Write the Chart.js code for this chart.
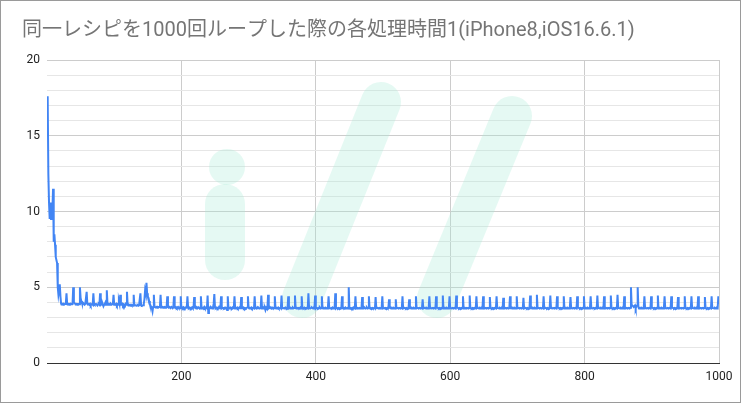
<!DOCTYPE html>
<html>
<head>
<meta charset="utf-8">
<script src="https://cdn.jsdelivr.net/npm/chart.js@4/dist/chart.umd.min.js"></script>
<style>
	body { margin: 0; background: #fff; }
	#wrap { width: 741px; height: 403px; }
</style>
</head>
<body>
<div id="wrap"><canvas id="loopChart" width="741" height="403"></canvas></div>
<script>
var chartTitle = "同一レシピを1000回ループした際の各処理時間1(iPhone8,iOS16.6.1)";
var yTickLabels = [0, 5, 10, 15, 20];
var xTickLabels = [200, 400, 600, 800, 1000];

// processing time per loop (10 loops per row)
var loopTimes = [
	17.6,12.5,10.6,9.5,10.5,9.5,10.6,10.0,11.5,8.0,
	8.5,7.8,7.0,6.8,6.6,5.0,4.5,4.8,5.2,4.4,
	3.9,3.88,3.9,3.85,3.9,3.88,3.9,3.92,4.6,3.9,
	3.88,3.9,3.85,3.9,3.92,3.88,3.9,3.9,5.0,4.0,
	3.95,3.9,3.88,3.9,3.85,3.9,3.9,3.88,5.0,4.3,
	4.1,3.95,3.9,3.88,3.9,3.85,3.9,3.9,4.7,3.9,
	3.88,3.9,3.85,3.9,3.8,3.88,3.9,3.85,4.6,3.9,
	3.85,3.88,3.9,3.85,3.8,3.88,3.9,3.85,4.6,3.85,
	3.9,3.85,3.88,3.75,3.85,3.9,4.0,3.85,4.8,3.9,
	3.85,3.9,3.88,3.85,3.9,3.85,3.88,3.9,4.5,3.85,
	3.88,3.85,3.9,3.8,3.88,3.85,4.1,3.9,4.5,3.85,
	3.85,3.9,3.8,3.88,3.85,3.8,3.9,3.85,4.7,3.85,
	3.8,3.85,3.82,3.8,3.85,3.8,3.82,3.8,4.5,3.8,
	3.82,3.8,3.78,3.8,3.82,3.78,3.8,3.8,4.6,3.8,
	3.78,3.8,3.82,3.9,4.2,4.8,4.6,5.3,4.6,4.4,
	4.3,4.1,3.9,3.8,3.7,3.6,3.4,3.7,4.5,3.7,
	3.7,3.68,3.7,3.65,3.7,3.68,3.7,3.68,4.5,3.7,
	3.68,3.7,3.65,3.68,3.7,3.65,3.68,3.7,4.4,3.68,
	3.65,3.7,3.66,3.64,3.7,3.66,3.62,3.68,4.4,3.66,
	3.64,3.68,3.62,3.66,3.7,3.64,3.66,3.62,4.4,3.65,
	3.66,3.62,3.68,3.64,3.6,3.66,3.64,3.68,4.4,3.64,
	3.62,3.66,3.64,3.6,3.66,3.68,3.62,3.64,4.35,3.66,
	3.64,3.6,3.66,3.62,3.68,3.64,3.6,3.66,4.4,3.62,
	3.66,3.62,3.64,3.7,3.62,3.66,3.64,3.6,4.45,3.3,
	3.64,3.66,3.62,3.68,3.64,3.6,3.66,3.9,4.55,3.64,
	3.62,3.66,3.64,3.6,3.66,3.62,3.68,3.64,4.4,3.62,
	3.66,3.62,3.6,3.64,3.66,3.62,3.64,3.5,4.4,3.64,
	3.6,3.64,3.66,3.62,3.6,3.66,3.62,3.64,4.4,3.6,
	3.64,3.62,3.66,3.6,3.64,3.62,3.66,3.64,4.35,3.62,
	3.62,3.66,3.6,3.64,3.62,3.6,3.64,3.66,4.4,3.64,
	3.6,3.64,3.62,3.66,3.6,3.64,3.62,3.6,4.4,3.62,
	3.64,3.6,3.66,3.62,3.64,3.6,3.62,3.66,4.45,3.6,
	3.62,3.66,3.6,3.64,3.5,3.66,3.6,3.64,4.5,3.62,
	3.66,3.62,3.64,3.6,3.66,3.62,3.64,3.62,4.4,3.64,
	3.6,3.64,3.62,3.66,3.6,3.62,3.64,3.6,4.45,3.62,
	3.64,3.62,3.6,3.64,3.66,3.62,3.6,3.64,4.4,3.6,
	3.62,3.6,3.64,3.62,3.6,3.66,3.62,3.64,4.45,3.62,
	3.6,3.64,3.62,3.6,3.64,3.62,3.66,3.6,4.4,3.64,
	3.64,3.62,3.66,3.62,3.6,3.64,3.62,3.6,4.6,3.62,
	3.62,3.6,3.64,3.66,3.62,3.6,3.64,3.62,4.45,3.6,
	3.64,3.62,3.6,3.64,3.62,3.66,3.6,3.62,4.4,3.64,
	3.6,3.64,3.62,3.6,3.64,3.62,3.6,3.64,4.4,3.62,
	3.62,3.6,3.64,3.62,3.66,3.6,3.62,3.64,4.6,3.6,
	3.64,3.62,3.6,3.64,3.62,3.6,3.64,3.62,4.4,3.64,
	3.6,3.64,3.62,3.66,3.6,3.62,3.64,3.6,5.0,3.62,
	3.64,3.6,3.62,3.64,3.6,3.66,3.62,3.6,4.4,3.64,
	3.62,3.64,3.6,3.62,3.64,3.6,3.62,3.64,4.35,3.6,
	3.6,3.62,3.64,3.6,3.62,3.66,3.6,3.62,4.4,3.64,
	3.64,3.6,3.62,3.64,3.6,3.62,3.64,3.6,4.35,3.62,
	3.62,3.64,3.6,3.62,3.64,3.6,3.62,3.64,4.4,3.6,
	3.6,3.62,3.64,3.6,3.62,3.64,3.6,3.62,4.2,3.64,
	3.62,3.6,3.64,3.62,3.6,3.64,3.62,3.6,4.2,3.62,
	3.64,3.62,3.6,3.64,3.62,3.6,3.64,3.62,4.4,3.6,
	3.6,3.64,3.62,3.6,3.64,3.62,3.6,3.64,4.2,3.62,
	3.62,3.6,3.64,3.62,3.6,3.64,3.62,3.6,4.4,3.64,
	3.64,3.62,3.6,3.64,3.62,3.6,3.64,3.62,4.2,3.6,
	3.6,3.64,3.62,3.6,3.64,3.62,3.6,3.64,4.4,3.62,
	3.62,3.6,3.64,3.62,3.6,3.64,3.62,3.6,4.4,3.64,
	3.64,3.62,3.6,3.64,3.62,3.6,3.64,3.62,4.45,3.6,
	3.6,3.64,3.62,3.6,3.64,3.62,3.6,3.64,4.4,3.62,
	3.62,3.6,3.64,3.62,3.6,3.64,3.62,3.6,4.45,3.64,
	3.64,3.62,3.6,3.64,3.62,3.6,3.64,3.62,4.4,3.6,
	3.6,3.64,3.62,3.6,3.64,3.62,3.6,3.64,4.45,3.62,
	3.62,3.6,3.64,3.62,3.6,3.64,3.62,3.6,4.4,3.64,
	3.64,3.62,3.6,3.64,3.62,3.6,3.64,3.62,4.4,3.6,
	3.6,3.64,3.62,3.6,3.64,3.62,3.6,3.64,4.35,3.62,
	3.62,3.6,3.64,3.62,3.6,3.64,3.62,3.6,4.4,3.64,
	3.64,3.62,3.6,3.64,3.62,3.6,3.64,3.62,4.3,3.6,
	3.6,3.64,3.62,3.6,3.64,3.62,3.6,3.64,4.4,3.62,
	3.62,3.6,3.64,3.62,3.6,3.64,3.62,3.6,4.4,3.64,
	3.64,3.62,3.6,3.64,3.62,3.6,3.64,3.62,4.3,3.6,
	3.6,3.64,3.62,3.6,3.64,3.62,3.6,3.64,4.45,3.62,
	3.62,3.6,3.64,3.62,3.6,3.64,3.62,3.6,4.5,3.64,
	3.64,3.62,3.6,3.64,3.62,3.6,3.64,3.62,4.4,3.6,
	3.6,3.64,3.62,3.6,3.64,3.62,3.6,3.64,4.45,3.62,
	3.62,3.6,3.64,3.62,3.6,3.64,3.62,3.6,4.4,3.64,
	3.64,3.62,3.6,3.64,3.62,3.6,3.64,3.62,4.4,3.6,
	3.6,3.64,3.62,3.6,3.64,3.62,3.6,3.64,4.35,3.62,
	3.62,3.6,3.64,3.62,3.6,3.64,3.62,3.6,4.4,3.64,
	3.64,3.62,3.6,3.64,3.62,3.6,3.64,3.62,4.4,3.6,
	3.6,3.64,3.62,3.6,3.64,3.62,3.6,3.64,4.4,3.62,
	3.62,3.6,3.64,3.62,3.6,3.64,3.62,3.6,4.45,3.64,
	3.64,3.62,3.6,3.64,3.62,3.6,3.64,3.62,4.4,3.6,
	3.6,3.64,3.62,3.6,3.64,3.62,3.6,3.64,4.45,3.62,
	3.62,3.6,3.64,3.62,3.6,3.64,3.62,3.6,4.5,3.64,
	3.64,3.62,3.6,3.64,3.62,3.6,3.64,3.62,4.4,3.6,
	3.6,3.64,3.62,3.6,3.64,3.62,3.6,3.64,5.0,3.8,
	3.8,3.75,3.7,3.75,3.8,3.6,3.75,3.8,5.0,3.7,
	3.6,3.64,3.62,3.6,3.64,3.62,3.6,3.64,4.4,3.62,
	3.62,3.6,3.64,3.62,3.6,3.64,3.62,3.6,4.4,3.64,
	3.64,3.62,3.6,3.64,3.62,3.6,3.64,3.62,4.45,3.6,
	3.6,3.64,3.62,3.6,3.64,3.62,3.6,3.64,4.4,3.62,
	3.62,3.6,3.64,3.62,3.6,3.64,3.62,3.6,4.4,3.64,
	3.64,3.62,3.6,3.64,3.62,3.6,3.64,3.62,4.35,3.6,
	3.6,3.64,3.62,3.6,3.64,3.62,3.6,3.64,4.4,3.62,
	3.62,3.6,3.64,3.62,3.6,3.64,3.62,3.6,4.4,3.64,
	3.64,3.62,3.6,3.64,3.62,3.6,3.64,3.62,4.4,3.6,
	3.6,3.64,3.62,3.6,3.64,3.62,3.6,3.64,4.35,3.62,
	3.62,3.6,3.64,3.62,3.6,3.64,3.62,3.6,4.4,3.64,
	3.64,3.62,3.6,3.64,3.62,3.6,3.64,3.62,4.4,3.9
];

var points = loopTimes.map(function(v, i){
	return {x: i + 1, y: v};
});

// faint "i//" watermark behind the line, plus the outer frame
var decoPlugin = {
	id: 'deco',
	beforeDatasetsDraw: function(chart){
		var c = chart.ctx;
		c.save();
		c.fillStyle = 'rgba(170,235,215,0.3)';
		c.strokeStyle = 'rgba(170,235,215,0.3)';
		c.beginPath();
		c.roundRect(205, 184, 40, 96, 20);
		c.fill();
		c.beginPath();
		c.arc(227, 167, 18, 0, Math.PI * 2);
		c.fill();
		c.lineCap = 'round';
		c.lineWidth = 40;
		c.beginPath();
		c.moveTo(302, 298);
		c.lineTo(381, 102);
		c.stroke();
		c.beginPath();
		c.moveTo(437, 298);
		c.lineTo(512, 116);
		c.stroke();
		c.restore();
	},
	afterDraw: function(chart){
		var c = chart.ctx;
		c.save();
		c.strokeStyle = '#9a9a9a';
		c.lineWidth = 1;
		c.strokeRect(0.5, 0.5, chart.width - 1, chart.height - 1);
		c.restore();
	}
};

var ctx = document.getElementById('loopChart').getContext('2d');
var chart = new Chart(ctx, {
	type: 'line',
	data: {
		datasets: [{
			data: points,
			borderColor: '#4285f4',
			borderWidth: 2,
			pointRadius: 0,
			tension: 0,
			fill: false
		}]
	},
	options: {
		responsive: false,
		animation: false,
		layout: {
			padding: {left: 22, right: 22, top: 8, bottom: 0}
		},
		plugins: {
			legend: {display: false},
			tooltip: {enabled: false},
			title: {
				display: true,
				text: chartTitle,
				align: 'start',
				color: '#757575',
				font: {family: "Roboto, 'Noto Sans CJK JP', sans-serif", size: 20, weight: 'normal'},
				padding: {top: 11, bottom: 17}
			}
		},
		scales: {
			x: {
				type: 'linear',
				min: 0,
				max: 1000,
				border: {display: true, color: '#333333', width: 1},
				grid: {
					drawTicks: false,
					color: function(c){ return c.tick.value === 0 ? 'rgba(0,0,0,0)' : '#cccccc'; }
				},
				ticks: {
					stepSize: 200,
					padding: 7,
					color: '#222222',
					font: {family: 'Roboto, sans-serif', size: 12},
					callback: function(v){ return xTickLabels.indexOf(v) >= 0 ? v : ''; }
				},
				afterFit: function(s){ s.height = 40; }
			},
			y: {
				min: 0,
				max: 20,
				border: {display: false},
				grid: {
					drawTicks: false,
					color: function(c){
						var v = c.tick.value;
						if (v === 0) return '#333333';
						return v % 5 === 0 ? '#cccccc' : '#e6e6e6';
					}
				},
				ticks: {
					stepSize: 1,
					autoSkip: false,
					padding: 7,
					color: '#222222',
					font: {family: 'Roboto, sans-serif', size: 12},
					callback: function(v){ return yTickLabels.indexOf(v) >= 0 ? v : ''; }
				},
				afterFit: function(s){ s.width = 25; }
			}
		}
	},
	plugins: [decoPlugin]
});
</script>
</body>
</html>
